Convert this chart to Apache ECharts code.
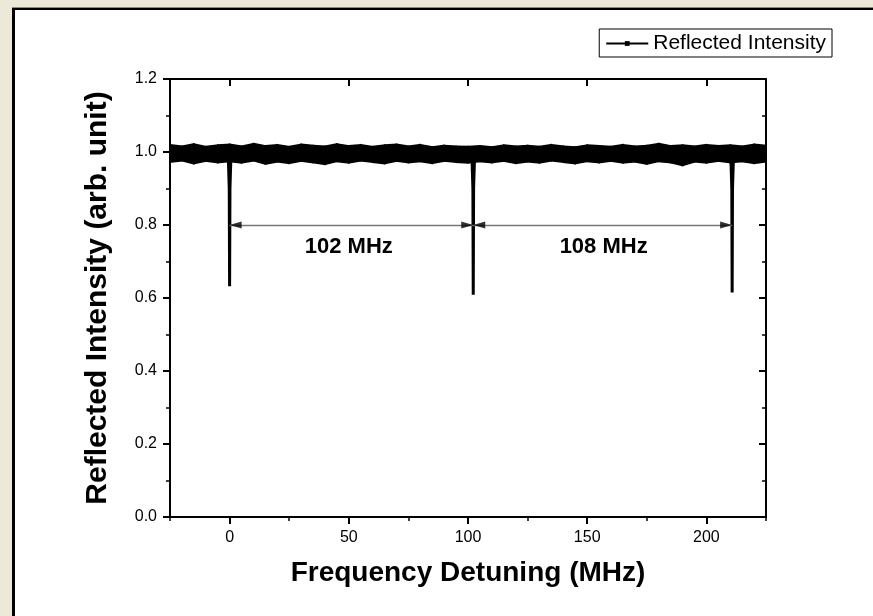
<!DOCTYPE html>
<html>
<head>
<meta charset="utf-8">
<script src="https://cdn.jsdelivr.net/npm/echarts@6/dist/echarts.min.js"></script>
<style>
    body { margin: 0; background: #ECE9D8; }
    .panel {
        position: absolute; left: 12px; top: 8px; right: 0; bottom: 0;
        background: #fff;
        border-left: 3px solid #000;
        border-top: 2px solid #000;
        box-shadow: 0 -1px 0 #8a8a8a;
    }
    #chart { position: absolute; left: 0; top: 0; width: 873px; height: 616px; }
</style>
</head>
<body>
<div class="panel"></div>
<div id="chart"></div>
<script>
// noise band of the trace (upper / lower edge every 5 MHz)
var freq = [-25, -20, -15, -10, -5, 0, 5, 10, 15, 20, 25, 30, 35, 40, 45, 50, 55, 60, 65, 70,
    75, 80, 85, 90, 95, 100, 105, 110, 115, 120, 125, 130, 135, 140, 145, 150, 155, 160, 165, 170,
    175, 180, 185, 190, 195, 200, 205, 210, 215, 220, 225];
var bandTop = [1.020, 1.016, 1.022, 1.015, 1.019, 1.021, 1.016, 1.023, 1.017, 1.020, 1.015, 1.021,
    1.018, 1.016, 1.022, 1.017, 1.020, 1.015, 1.019, 1.021, 1.016, 1.020, 1.014, 1.018, 1.016, 1.015,
    1.017, 1.014, 1.019, 1.016, 1.018, 1.015, 1.020, 1.016, 1.014, 1.019, 1.017, 1.015, 1.020, 1.016,
    1.018, 1.023, 1.017, 1.019, 1.016, 1.020, 1.017, 1.019, 1.016, 1.021, 1.018];
var bandBottom = [0.972, 0.976, 0.968, 0.975, 0.971, 0.974, 0.970, 0.976, 0.967, 0.973, 0.969, 0.975,
    0.971, 0.966, 0.974, 0.970, 0.976, 0.972, 0.968, 0.975, 0.971, 0.974, 0.969, 0.975, 0.972, 0.970,
    0.974, 0.971, 0.975, 0.969, 0.973, 0.970, 0.976, 0.972, 0.968, 0.974, 0.971, 0.975, 0.970, 0.973,
    0.967, 0.974, 0.971, 0.963, 0.973, 0.970, 0.975, 0.971, 0.974, 0.969, 0.973];

// resonance dips
var dipFreq = [0, 102.2, 210.8];
var dipMin = [0.632, 0.609, 0.615];
var dipShape = [[-0.5, 0.975], [-0.15, 0.9], [0, 1], [0.15, 0.9], [0.5, 0.975]]; // [offset MHz, 1 = dip bottom]

// spacing annotations
var arrowY = 0.8;
var spacingText = ['102 MHz', '108 MHz'];
var spacingTextPos = [[50.0, 0.741], [156.9, 0.741]];

// axis ticks
var xMajor = [0, 50, 100, 150, 200];

var font = 'Arial, "Liberation Sans", sans-serif';

// band drawn as quads between neighbouring samples
var bandSeg = [];
for (var i = 0; i < freq.length - 1; i++) {
    bandSeg.push([freq[i], bandTop[i], bandBottom[i], freq[i + 1], bandTop[i + 1], bandBottom[i + 1]]);
}

var dipSeries = dipFreq.map(function (f, k) {
    return {
        name: 'Reflected Intensity',
        type: 'line',
        symbol: 'rect',
        showSymbol: false,
        lineStyle: { color: '#000', width: 3 },
        itemStyle: { color: '#000' },
        z: 4,
        data: dipShape.map(function (p) {
            var y = p[1] === 1 ? dipMin[k] : p[1];
            return [f + p[0], y];
        })
    };
});

var arrows = [];
var heads = [];
for (var j = 0; j < dipFreq.length - 1; j++) {
    arrows.push([{ coord: [dipFreq[j], arrowY] }, { coord: [dipFreq[j + 1], arrowY] }]);
    heads.push({ value: [dipFreq[j], arrowY], symbolRotate: 90, symbolOffset: [6, 0] });
    heads.push({ value: [dipFreq[j + 1], arrowY], symbolRotate: -90, symbolOffset: [-6, 0] });
}

var tickStyle = { color: '#000', width: 2 };
var minorStyle = { color: '#000', width: 1.5 };

var option = {
    animation: false,
    legend: {
        data: ['Reflected Intensity'],
        right: 41,
        top: 29,
        padding: [4, 6, 3, 6],
        borderColor: '#000',
        borderWidth: 1,
        backgroundColor: '#fff',
        itemWidth: 42,
        itemHeight: 6,
        textStyle: { fontFamily: font, fontSize: 21, color: '#000' }
    },
    grid: { left: 170, right: 107, top: 79, bottom: 99 },
    xAxis: [
        {
            type: 'value', position: 'bottom', min: -25, max: 225,
            axisLine: { show: true, onZero: false, lineStyle: tickStyle },
            splitLine: { show: false },
            axisTick: { show: true, length: 7, customValues: xMajor, lineStyle: tickStyle },
            axisLabel: { margin: 13, fontFamily: font, fontSize: 16, color: '#000', customValues: xMajor },
            name: 'Frequency Detuning (MHz)',
            nameLocation: 'middle',
            nameGap: 42,
            nameTextStyle: { fontFamily: font, fontSize: 28, fontWeight: 'bold', color: '#000' }
        },
        {
            type: 'value', position: 'top', min: -25, max: 225,
            axisLine: { show: true, onZero: false, lineStyle: tickStyle },
            splitLine: { show: false },
            axisTick: { show: true, inside: true, length: 7, customValues: xMajor, lineStyle: tickStyle },
            axisLabel: { show: false }
        },
        {   // minor ticks, bottom
            type: 'value', position: 'bottom', min: -25, max: 225, interval: 25,
            axisLine: { show: false },
            splitLine: { show: false },
            axisTick: { show: true, length: 4, lineStyle: minorStyle },
            axisLabel: { show: false }
        },
        {   // minor ticks, top
            type: 'value', position: 'top', min: -25, max: 225, interval: 25,
            axisLine: { show: false },
            splitLine: { show: false },
            axisTick: { show: true, inside: true, length: 4, lineStyle: minorStyle },
            axisLabel: { show: false }
        }
    ],
    yAxis: [
        {
            type: 'value', position: 'left', min: 0, max: 1.2, interval: 0.2,
            axisLine: { show: true, onZero: false, lineStyle: tickStyle },
            splitLine: { show: false },
            axisTick: { show: true, length: 7, lineStyle: tickStyle },
            minorTick: { show: true, splitNumber: 2, length: 4, lineStyle: minorStyle },
            axisLabel: {
                margin: 13, fontFamily: font, fontSize: 16, color: '#000',
                formatter: function (v) { return v.toFixed(1); }
            },
            name: 'Reflected Intensity (arb. unit)',
            nameLocation: 'middle',
            nameGap: 57,
            nameTextStyle: { fontFamily: font, fontSize: 30, fontWeight: 'bold', color: '#000' }
        },
        {
            type: 'value', position: 'right', min: 0, max: 1.2, interval: 0.2,
            axisLine: { show: true, onZero: false, lineStyle: tickStyle },
            splitLine: { show: false },
            axisTick: { show: true, inside: true, length: 7, lineStyle: tickStyle },
            minorTick: { show: true, splitNumber: 2, length: 4, lineStyle: minorStyle },
            axisLabel: { show: false }
        }
    ],
    series: [
        {
            name: 'band',
            type: 'custom',
            silent: true,
            z: 3,
            encode: { x: [0, 3], y: [1, 2, 4, 5] },
            renderItem: function (params, api) {
                var pts = [
                    api.coord([api.value(0), api.value(1)]),
                    api.coord([api.value(3), api.value(4)]),
                    api.coord([api.value(3), api.value(5)]),
                    api.coord([api.value(0), api.value(2)])
                ];
                return {
                    type: 'polygon',
                    shape: { points: pts },
                    style: { fill: '#000', stroke: '#000', lineWidth: 1.5 }
                };
            },
            data: bandSeg
        }
    ].concat(dipSeries).concat([
        {
            name: 'notes',
            type: 'scatter',
            symbolSize: 0,
            itemStyle: { color: '#000' },
            silent: true,
            z: 5,
            label: {
                show: true,
                position: 'inside',
                fontFamily: font,
                fontSize: 22,
                fontWeight: 'bold',
                color: '#000',
                textBorderWidth: 0,
                opacity: 1,
                formatter: function (p) { return spacingText[p.dataIndex]; }
            },
            data: spacingTextPos,
            markLine: {
                silent: true,
                symbol: 'none',
                label: { show: false },
                lineStyle: { color: '#777', width: 1.3, type: 'solid' },
                emphasis: { disabled: true },
                data: arrows
            }
        },
        {
            name: 'heads',
            type: 'scatter',
            symbol: 'triangle',
            symbolSize: [7, 12],
            itemStyle: { color: '#000' },
            silent: true,
            z: 6,
            data: heads
        }
    ])
};

var chart = echarts.init(document.getElementById('chart'));
chart.setOption(option);
</script>
</body>
</html>
